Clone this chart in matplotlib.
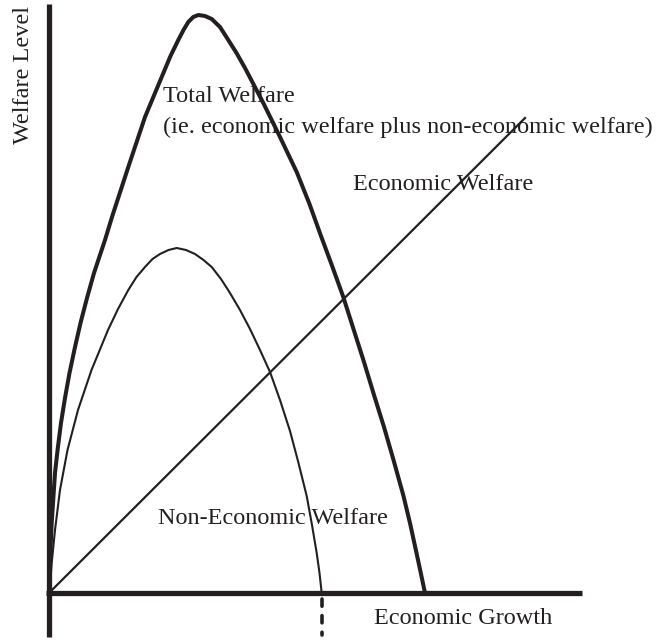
import matplotlib
matplotlib.use("Agg")
import matplotlib.pyplot as plt

# coordinates (x = growth, y = welfare level)
total_x = [0.5, 1.0, 1.8, 3.2, 6.5, 9.3, 12.5, 16.5, 21.0, 26.3, 32.0, 38.5, 45.5,
           56.5, 63.5, 79.8, 96.5, 113.2, 122.0, 129.8, 135.0, 139.8, 144.8, 149.8,
           156.5, 163.2, 171.5, 179.8, 188.0, 196.5, 214.8, 231.5, 248.2, 261.0,
           272.5, 284.0, 294.8, 305.3, 315.5, 325.5, 335.5, 345.3, 355.0, 361.7,
           368.0, 372.3, 376.5]
total_y = [3, 20, 40, 70, 120, 145, 170, 195, 220, 245, 270, 295, 320,
           353, 376, 426, 476, 516, 537, 553, 563, 571, 576, 578,
           577, 574, 566, 553, 540, 525, 490, 456, 421, 389,
           357, 326, 296, 263, 231, 198, 166, 132, 97, 69,
           40, 20, 0]

nonecon_x = [0.5, 1.5, 3.2, 6.5, 11.5, 19.0, 29.5, 43.0, 59.5, 69.5, 79.8, 88.0,
             96.5, 104.0, 111.5, 120.0, 128.2, 137.5, 146.5, 155.0, 163.2, 172.5,
             181.5, 191.5, 201.5, 211.5, 221.5, 231.5, 241.5, 250.0, 258.2, 263.5,
             268.2, 271.0, 273.2]
nonecon_y = [1, 6, 30, 63, 103, 143, 183, 223, 263, 284, 303, 316,
             326, 334, 339, 343, 345, 343, 339, 333, 326, 314,
             300, 283, 264, 243, 221, 193, 162, 130, 97, 68,
             40, 20, 0]

econ_x = [1.5, 476.5]
econ_y = [1, 475]

cut_x = 273.2  # where non-economic welfare falls to zero

fig = plt.figure(figsize=(6.58, 6.41), dpi=100)
ax = fig.add_axes([0, 0, 1, 1])
ax.set_xlim(-48.5, 609.5)
ax.set_ylim(-48, 593)
ax.axis("off")

ink = "#231f20"

# the two axes, drawn as heavy strokes
ax.plot([0, 0], [-44, 589], color=ink, lw=3.8, solid_capstyle="butt")
ax.plot([-2.5, 533.5], [0, 0], color=ink, lw=3.8, solid_capstyle="butt")
ax.plot([cut_x, cut_x], [-6, -42], color=ink, lw=2.6, dashes=(2.0, 2.6),
        dash_capstyle="round")

ax.plot(total_x, total_y, color=ink, lw=2.9, solid_joinstyle="round",
        solid_capstyle="butt")
ax.plot(nonecon_x, nonecon_y, color=ink, lw=1.5, solid_joinstyle="round",
        solid_capstyle="butt")
ax.plot(econ_x, econ_y, color=ink, lw=1.6)

font = ["Liberation Serif", "Noto Sans CJK JP"]
fs = 17.5
ax.text(114.5, 497, "Total Welfare", family=font, fontsize=fs, color=ink, va="center")
ax.text(114.5, 466, "(ie. economic welfare plus non-economic welfare)", family=font,
        fontsize=fs, color=ink, va="center")
ax.text(304.5, 408, "Economic Welfare", family=font, fontsize=fs, color=ink, va="center")
ax.text(109.5, 74, "Non-Economic Welfare", family=font, fontsize=fs, color=ink, va="center")
ax.text(325.5, -25, "Economic Growth", family=font, fontsize=fs, color=ink, va="center")
ax.text(-24.5, 518, "Welfare Level", family=font, fontsize=fs, color=ink, va="center",
        ha="center", rotation=90)

fig.savefig("out.png", dpi=100)
